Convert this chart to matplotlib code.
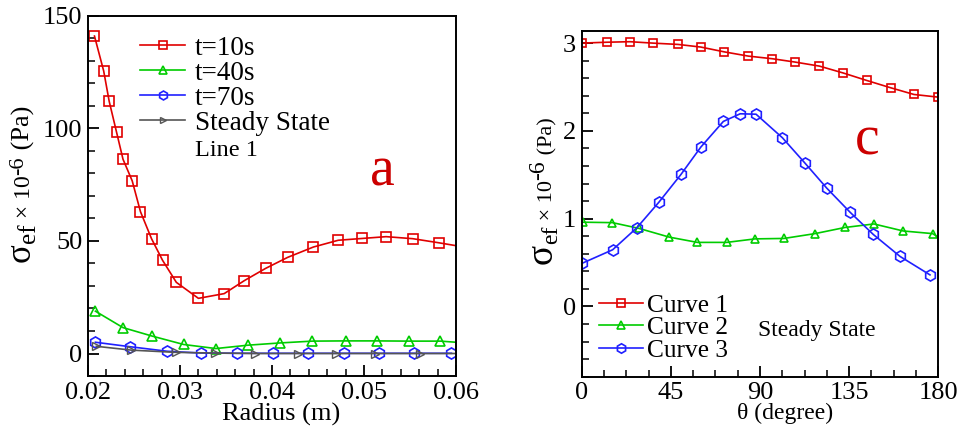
import numpy as np
import matplotlib
matplotlib.use("Agg")
import matplotlib.pyplot as plt
from matplotlib.ticker import MultipleLocator, FormatStrFormatter


# panel a: effective stress along line 1
radius_10 = [0.0207, 0.0217, 0.0223, 0.0231, 0.0238, 0.0248, 0.0257, 0.0269, 0.0281, 0.0296, 0.0320,
             0.0348, 0.0370, 0.0393, 0.0417, 0.0445, 0.0472, 0.0498, 0.0524, 0.0553, 0.0581, 0.0600]
stress_10 = [141.0, 125.5, 112.0, 98.3, 86.3, 76.7, 63.0, 51.0, 41.4, 31.6, 24.5,
             26.6, 32.4, 37.8, 42.7, 47.3, 50.3, 51.1, 51.9, 51.0, 49.2, 47.9]
radius_40 = [0.0208, 0.0238, 0.0270, 0.0304, 0.0339, 0.0374, 0.0409, 0.0444, 0.0480, 0.0514, 0.0549, 0.0583, 0.0600]
stress_40 = [18.8, 11.5, 7.7, 4.0, 2.2, 3.7, 4.7, 5.5, 5.6, 5.6, 5.5, 5.5, 5.0]
radius_70 = [0.0208, 0.0246, 0.0286, 0.0323, 0.0362, 0.0401, 0.0439, 0.0478, 0.0516, 0.0554, 0.0595]
stress_70 = [5.0, 3.0, 1.0, 0.2, 0.1, 0.1, 0.1, 0.1, 0.1, 0.1, 0.1]
radius_ss = [0.0209, 0.0247, 0.0296, 0.0338, 0.0382, 0.0428, 0.0470, 0.0512, 0.0561, 0.0600]
stress_ss = [3.2, 1.5, 0.5, 0.2, 0.0, 0.0, 0.0, 0.0, 0.0, 0.0]
labels_a = ["t=10s", "t=40s", "t=70s", "Steady State"]

# panel c: steady state along theta
theta_1 = [0, 12.6, 24.4, 35.8, 48.6, 60.1, 72.0, 84.1, 96.2, 107.7, 120.0, 132.1, 143.8, 156.0, 167.7, 179.8]
curve_1 = [3.0, 3.01, 3.016, 3.0, 2.985, 2.955, 2.90, 2.852, 2.822, 2.784, 2.738, 2.659, 2.575, 2.491, 2.415, 2.385]
theta_2 = [0.5, 15.5, 28.8, 44.2, 58.4, 73.2, 87.5, 102.1, 117.8, 132.9, 147.5, 162.3, 177.1, 180]
curve_2 = [0.96, 0.955, 0.89, 0.79, 0.73, 0.73, 0.77, 0.775, 0.83, 0.90, 0.94, 0.86, 0.83, 0.79]
theta_3 = [0, 15.6, 27.8, 39.0, 50.1, 60.1, 71.5, 80.0, 88.0, 101.3, 112.7, 123.7, 135.4, 147.2, 160.7, 175.8]
curve_3 = [0.49, 0.646, 0.896, 1.189, 1.504, 1.815, 2.108, 2.195, 2.19, 1.922, 1.633, 1.348, 1.075, 0.82, 0.57, 0.36]
labels_c = ["Curve 1", "Curve 2", "Curve 3"]

RED = "#e00000"
GREEN = "#00cc00"
BLUE = "#2020ff"
GRAY = "#555555"

plt.rcParams["font.family"] = ["Liberation Serif", "DejaVu Serif"]


def style_axes(ax):
    for sp in ax.spines.values():
        sp.set_linewidth(1.4)
    ax.tick_params(which="both", direction="in", top=False, right=False, labelsize=19, pad=4)
    ax.tick_params(which="major", length=8, width=1.3)
    ax.tick_params(which="minor", length=5, width=1.1)


def stacked_ylabel(fig, x, y, pieces):
    # vertical label built from pieces of different sizes, bottom to top
    renderer = fig.canvas.get_renderer()
    for text, size, shift in pieces:
        t = fig.text(x + shift / fig.bbox.width, y, text, rotation=90, rotation_mode="anchor",
                     ha="left", va="baseline", fontsize=size)
        ext = t.get_window_extent(renderer)
        y += ext.height / fig.bbox.height


fig = plt.figure(figsize=(9.59, 4.34), dpi=100)

# ---- panel a ----
ax1 = fig.add_axes([0.0918, 0.1336, 0.3837, 0.830])
ax1.plot(radius_10, stress_10, "-s", color=RED, lw=1.2, ms=7, mfc="none", mew=1.2,
         markevery=slice(0, len(radius_10) - 1), label=labels_a[0])
ax1.plot(radius_40, stress_40, "-^", color=GREEN, lw=1.2, ms=7, mfc="none", mew=1.2,
         markevery=slice(0, len(radius_40) - 1), label=labels_a[1])
ax1.plot(radius_70, stress_70, "-h", color=BLUE, lw=1.2, ms=8, mfc="none", mew=1.2, label=labels_a[2])
ax1.plot(radius_ss, stress_ss, "->", color=GRAY, lw=1.2, ms=6, mfc="none", mew=1.0,
         markevery=slice(0, len(radius_ss) - 1), label=labels_a[3])
ax1.set_xlim(0.02, 0.06)
ax1.set_ylim(-10, 150)
ax1.xaxis.set_major_locator(MultipleLocator(0.01))
ax1.xaxis.set_minor_locator(MultipleLocator(0.002))
ax1.yaxis.set_major_locator(MultipleLocator(50))
ax1.yaxis.set_minor_locator(MultipleLocator(10))
ax1.xaxis.set_major_formatter(FormatStrFormatter("%.2f"))
style_axes(ax1)
ax1.set_xlabel("Radius (m)", fontsize=19)
ax1.xaxis.set_label_coords(0.524, -0.075)
ax1.legend(loc="upper left", bbox_to_anchor=(0.141, 0.944), frameon=False, fontsize=19.5,
           handlelength=1.67, handletextpad=0.37, labelspacing=0.0, borderaxespad=0, borderpad=0,
           markerscale=0.8)
ax1.text(0.291, 0.625, "Line 1", transform=ax1.transAxes, fontsize=17.5, ha="left", va="center")
ax1.text(0.80, 0.567, "a", transform=ax1.transAxes, fontsize=40, color="#cc0000", ha="center", va="center")

# ---- panel c ----
ax2 = fig.add_axes([0.6066, 0.132, 0.3718, 0.797])
ax2.plot(theta_1, curve_1, "-s", color=RED, lw=1.2, ms=6, mfc="none", mew=1.2, label=labels_c[0])
ax2.plot(theta_2, curve_2, "-^", color=GREEN, lw=1.2, ms=6, mfc="none", mew=1.2,
         markevery=slice(0, len(theta_2) - 1), label=labels_c[1])
ax2.plot(theta_3, curve_3, "-h", color=BLUE, lw=1.2, ms=8, mfc="none", mew=1.2, label=labels_c[2])
ax2.set_xlim(0, 180)
ax2.set_ylim(-0.8, 3.14)
ax2.xaxis.set_major_locator(MultipleLocator(45))
ax2.xaxis.set_minor_locator(MultipleLocator(11.25))
ax2.yaxis.set_major_locator(MultipleLocator(1))
ax2.yaxis.set_minor_locator(MultipleLocator(0.2))
style_axes(ax2)
ax2.set_xlabel("θ (degree)", fontsize=17)
ax2.xaxis.set_label_coords(0.570, -0.075)
ax2.legend(loc="lower left", bbox_to_anchor=(0.0485, 0.042), frameon=False, fontsize=18.3,
           handlelength=1.73, handletextpad=0.16, labelspacing=0.0, borderaxespad=0, borderpad=0,
           markerscale=0.85)
ax2.text(0.494, 0.135, "Steady State", transform=ax2.transAxes, fontsize=17, ha="left", va="center")
ax2.text(0.80, 0.682, "c", transform=ax2.transAxes, fontsize=40, color="#cc0000", ha="center", va="center")

fig.canvas.draw()
stacked_ylabel(fig, 30 / 959, 1 - 262 / 434, [
    ("σ", 25, 0), ("ef", 18, 5), (" × 10", 17, 0), ("-6", 16, -7), (" (Pa)", 19, 0)])
stacked_ylabel(fig, 552 / 959, 1 - 264 / 434, [
    ("σ", 27, 0), ("ef", 17, 5), (" × 10", 16, 0), ("-6", 17, -8), (" (Pa)", 16, 0)])

fig.savefig("out.png", dpi=100)
